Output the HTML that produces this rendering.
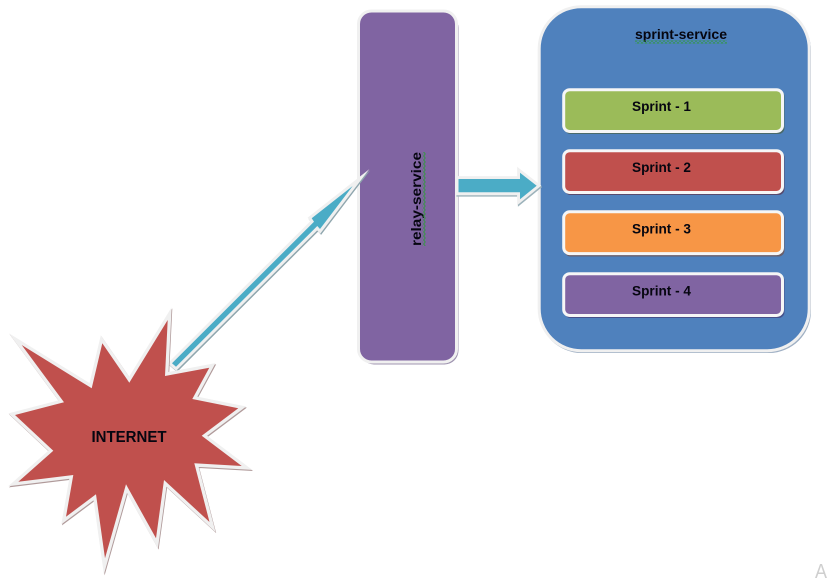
<!DOCTYPE html>
<html>
<head>
<meta charset="utf-8">
<style>
html,body{margin:0;padding:0;background:#fff;width:827px;height:584px;overflow:hidden}
svg{display:block}
text{font-family:"Liberation Sans",sans-serif;font-weight:bold;fill:#060610}
polygon{paint-order:stroke fill}
</style>
</head>
<body>
<svg width="827" height="584" viewBox="0 0 827 584" xmlns="http://www.w3.org/2000/svg">
<defs>
<pattern id="zh" width="4" height="3" patternUnits="userSpaceOnUse">
<polyline points="0,2.5 2,0.5 4,2.5" fill="none" stroke="#2f9a3c" stroke-width="0.9"/>
</pattern>
<pattern id="zv" width="3" height="4" patternUnits="userSpaceOnUse">
<polyline points="0.5,0 2.5,2 0.5,4" fill="none" stroke="#2f9a3c" stroke-width="0.9"/>
</pattern>
</defs>

<!-- relay-service box -->
<rect x="360" y="14" width="98.5" height="350.5" rx="14" fill="#9f94b0"/>
<rect x="358.5" y="11" width="98" height="351" rx="13" fill="#8064A2" stroke="#f0f0f0" stroke-width="3"/>
<g transform="translate(421,246) rotate(-90)">
<text x="0" y="0" font-size="14" textLength="94" lengthAdjust="spacingAndGlyphs">relay-service</text>
</g>
<rect x="422.5" y="152" width="3" height="94" fill="url(#zv)"/>

<!-- sprint-service box -->
<rect x="539.5" y="8.5" width="271.5" height="344.5" rx="42" fill="#9fb0c4"/>
<rect x="539.2" y="6.7" width="270" height="344" rx="42" fill="#4F81BD" stroke="#f0f0f0" stroke-width="3"/>
<text x="635" y="39" font-size="14" textLength="92" lengthAdjust="spacingAndGlyphs">sprint-service</text>
<rect x="635" y="40.5" width="92" height="3" fill="url(#zh)"/>

<!-- sprint boxes -->
<rect x="564.5" y="90.5" width="220" height="43.5" rx="6" fill="#4a6a6a"/>
<rect x="563.7" y="89.7" width="218.8" height="41.8" rx="6" fill="#9BBB59" stroke="#f6f6f6" stroke-width="3"/>
<text x="632" y="111" font-size="14" textLength="59" lengthAdjust="spacingAndGlyphs">Sprint - 1</text>

<rect x="564.5" y="151.5" width="220" height="43.5" rx="6" fill="#564a6e"/>
<rect x="563.7" y="150.7" width="218.8" height="41.8" rx="6" fill="#C0504D" stroke="#f6f6f6" stroke-width="3"/>
<text x="632" y="172" font-size="14" textLength="59" lengthAdjust="spacingAndGlyphs">Sprint - 2</text>

<rect x="564.5" y="212.5" width="220" height="44" rx="6" fill="#6a5f6a"/>
<rect x="563.7" y="211.8" width="218.8" height="41.8" rx="6" fill="#F79646" stroke="#f6f6f6" stroke-width="3"/>
<text x="632" y="233.5" font-size="14" textLength="59" lengthAdjust="spacingAndGlyphs">Sprint - 3</text>

<rect x="564.5" y="274.5" width="220" height="43.5" rx="6" fill="#45508a"/>
<rect x="563.7" y="273.7" width="218.8" height="41.8" rx="6" fill="#8064A2" stroke="#f6f6f6" stroke-width="3"/>
<text x="632" y="295.5" font-size="14" textLength="59" lengthAdjust="spacingAndGlyphs">Sprint - 4</text>

<!-- horizontal arrow -->
<polygon points="458.5,179 520,179 520,172.7 536.7,185.7 520,199.3 520,192.3 458.5,192.3" fill="#9db3bb" stroke="#9db3bb" stroke-width="5.8" stroke-miterlimit="10" transform="translate(0.8,1.4)"/>
<polygon points="458.5,179 520,179 520,172.7 536.7,185.7 520,199.3 520,192.3 458.5,192.3" fill="#4BACC6" stroke="#f0f0f0" stroke-width="5.8" stroke-miterlimit="10"/>

<!-- diagonal arrow -->
<polygon points="172,363.3 314,221.7 311.7,218.3 352.7,186 320,229 317.3,226 176,366.7" fill="#8fa6ae" stroke="#8fa6ae" stroke-width="6" stroke-miterlimit="14" transform="translate(0.9,1.2)"/>
<polygon points="172,363.3 314,221.7 311.7,218.3 352.7,186 320,229 317.3,226 176,366.7" fill="#4BACC6" stroke="#f0f0f0" stroke-width="6" stroke-miterlimit="14"/>

<!-- star -->
<polygon points="21.7,345 91.7,388.3 102.3,343.3 129.3,382.7 167.7,320 165,376 209.3,367.7 192.3,399 238.3,408.3 201.7,435.7 241.7,466 194.3,463.3 209.5,522 164,480 156,538.3 126,484.3 105,558.3 96,494.3 66,516.7 73.3,475 18.3,481.7 53.3,450.7 15,415 64,402.3" fill="#b09a9a" stroke="#b09a9a" stroke-width="6.6" stroke-miterlimit="14" transform="translate(0.7,1.1)"/>
<polygon points="21.7,345 91.7,388.3 102.3,343.3 129.3,382.7 167.7,320 165,376 209.3,367.7 192.3,399 238.3,408.3 201.7,435.7 241.7,466 194.3,463.3 209.5,522 164,480 156,538.3 126,484.3 105,558.3 96,494.3 66,516.7 73.3,475 18.3,481.7 53.3,450.7 15,415 64,402.3" fill="#C0504D" stroke="#f0f0f0" stroke-width="6.6" stroke-miterlimit="14"/>
<text x="91.5" y="442" font-size="15.5" textLength="75" lengthAdjust="spacingAndGlyphs">INTERNET</text>

<!-- watermark -->
<text x="815" y="578" font-size="20" textLength="12" lengthAdjust="spacingAndGlyphs" style="font-weight:normal;fill:#cfcfcf">A</text>
</svg>
</body>
</html>
